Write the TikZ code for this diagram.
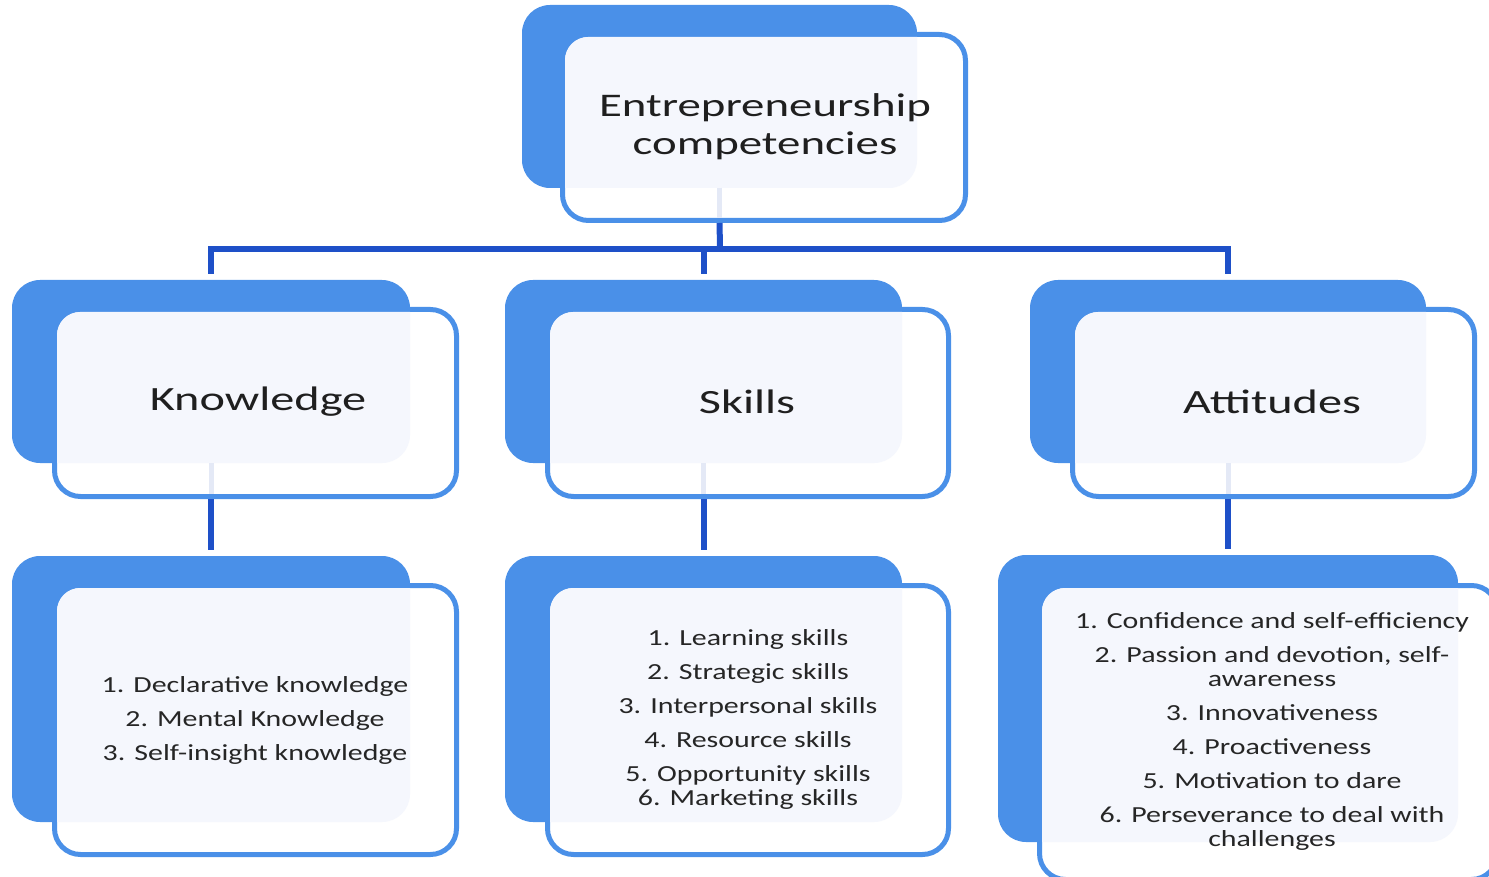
\documentclass[tikz,border=0pt]{standalone}
\usepackage{fontspec}
\setmainfont{Carlito}
\newfontfamily\bigf{Carlito}[FakeStretch=1.42]
\newfontfamily\smallf{Carlito}[FakeStretch=1.3]
\definecolor{boxblue}{RGB}{74,144,232}
\definecolor{linkblue}{RGB}{30,80,200}
\definecolor{lav}{RGB}{245,247,253}
\definecolor{faintc}{RGB}{228,233,246}
\tikzset{
  backbox/.style={fill=boxblue, rounded corners=28pt, draw=none, inner sep=0pt, outer sep=0pt},
  frontbox/.style={fill=white, draw=boxblue, line width=5pt, rounded corners=26pt, inner sep=0pt, outer sep=0pt},
  conn/.style={draw=linkblue, line width=6pt},
  faint/.style={draw=faintc, line width=5pt},
  toptext/.style={font=\bigf\fontsize{33}{38}\selectfont, align=center, text=black!88},
  midtext/.style={font=\bigf\fontsize{34}{40}\selectfont, align=center, text=black!88},
  listtext/.style={font=\smallf\fontsize{23}{24}\selectfont, align=center, text=black!85}
}
\newcommand\mkpair[9]{%
  \node[backbox, minimum width=#4pt, minimum height=#5pt] (#1b) at (#2,#3) {};
  \node[frontbox, minimum width=#8pt, minimum height=#9pt] (#1f) at (#6,#7) {};
  \begin{scope}
    \clip[rounded corners=28pt] (#1b.north west) rectangle (#1b.south east);
    \fill[lav, rounded corners=23pt] ([shift={(2.5,2.5)}]#1f.north west) rectangle ([shift={(-2.5,-2.5)}]#1f.south east);
  \end{scope}
}
\newcommand\faintlink[1]{%
  \draw[faint, shorten >=2.5pt] (#1b.south) -- (#1b.south |- #1f.south);
}
\begin{document}
\begin{tikzpicture}[x=1pt,y=-1pt]
\useasboundingbox (0,0) rectangle (1489,877);
\clip (0,0) rectangle (1489,877);
% top
\mkpair{t}{719.5}{96.5}{395}{183}{764}{127.5}{403}{186}
% level 2
\mkpair{k}{211}{371.5}{398}{183}{255.5}{403}{402}{187}
\mkpair{s}{703.5}{371.5}{397}{183}{748}{403}{401}{187}
\mkpair{a}{1228}{371.5}{396}{183}{1273.5}{403}{402}{187}
\faintlink{t}
\faintlink{k}
\faintlink{s}
\faintlink{a}
% level 3
\mkpair{kk}{211}{689}{398}{266}{255.5}{720}{402}{269}
\mkpair{ss}{703.5}{689}{397}{266}{748}{720}{401}{269}
\mkpair{aa}{1228}{698.5}{460}{287}{1268.5}{732.5}{458}{294}
% connectors
\coordinate (hub) at (720,249);
\draw[conn, shorten <=2.5pt] (tb.south |- tf.south) -- (hub);
\draw[conn, line cap=rect] (kb.north |- hub) -- (ab.north |- hub);
\draw[conn, shorten >=6pt] (kb.north |- hub) -- (kb.north);
\draw[conn, shorten >=6pt] (sb.north |- hub) -- (sb.north);
\draw[conn, shorten >=6pt] (ab.north |- hub) -- (ab.north);
\draw[conn, shorten <=2.5pt, shorten >=6pt] (kb.south |- kf.south) -- (kkb.north);
\draw[conn, shorten <=2.5pt, shorten >=6pt] (sb.south |- sf.south) -- (ssb.north);
\draw[conn, shorten <=2.5pt, shorten >=6pt] (ab.south |- af.south) -- (aab.north);
% texts
\node[toptext] (ttext) at (765,127) {Entrepreneurship\\competencies};
\node[midtext] (ktext) at (258,402) {Knowledge};
\node[midtext] (stext) at (747,402) {Skills};
\node[midtext] (atext) at (1272,402) {Attitudes};
\node[listtext] (kklist) at (255,720) {1. Declarative knowledge\\[10pt]2. Mental Knowledge\\[10pt]3. Self-insight knowledge};
\node[listtext] (sslist) at (748,719) {1. Learning skills\\[10pt]2. Strategic skills\\[10pt]3. Interpersonal skills\\[10pt]4. Resource skills\\[10pt]5. Opportunity skills\\6. Marketing skills};
\node[listtext] (aalist) at (1272,731) {1. Confidence and self-efficiency\\[10pt]2. Passion and devotion, self-\\awareness\\[10pt]3. Innovativeness\\[10pt]4. Proactiveness\\[10pt]5. Motivation to dare\\[10pt]6. Perseverance to deal with\\challenges};
\end{tikzpicture}
\end{document}
